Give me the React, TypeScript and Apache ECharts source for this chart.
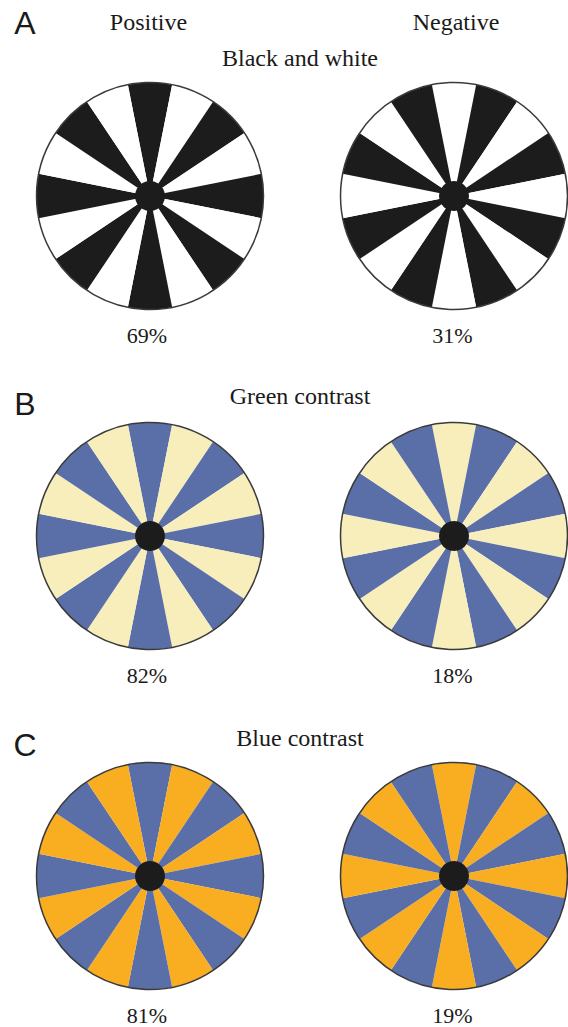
import React, { useEffect, useRef } from "react";
import * as echarts from "echarts";

// ---- data ----
const panelLetters = ["A", "B", "C"];
const panelTitles = ["Black and white", "Green contrast", "Blue contrast"];
const columnLabels = ["Positive", "Negative"];
const positivePercent = [69, 82, 81];
const negativePercent = [31, 18, 19];
// 16 equal sectors per disk
const sectorValues = [1, 1, 1, 1, 1, 1, 1, 1, 1, 1, 1, 1, 1, 1, 1, 1];
const darkColors = ["#1c1c1c", "#5a6fa8", "#5a6fa8"];
const lightColors = ["#ffffff", "#f8eebc", "#f9ae22"];

// ---- layout ----
const W = 568;
const H = 1027;
const colX = [150, 454];
const rowY = [196, 536, 876];
const diskR = 113.5;
const dotR = 15;
const pctY = [335.5, 675.5, 1015.5];
const titleY = [57.5, 396, 738];
const letterY = [23, 404, 745];
const serif = "Liberation Serif";
const sans = "Liberation Sans";

function label(text: string, x: number, y: number, size: number, family: string) {
  return {
    text,
    left: x,
    top: y,
    padding: 0,
    itemGap: 0,
    textAlign: "center",
    textVerticalAlign: "middle",
    textStyle: {
      color: "#1a1a1a",
      fontSize: size,
      fontFamily: family,
      fontWeight: "normal",
    },
  };
}

export default function App() {
  const ref = useRef<HTMLDivElement>(null);

  useEffect(() => {
    if (!ref.current) return;
    const chart = echarts.init(ref.current, null, { renderer: "svg" });

    const series: any[] = [];
    const graphics: any[] = [];
    const titles: any[] = [];

    panelLetters.forEach((letter, row) => {
      [0, 1].forEach((col) => {
        const cx = colX[col];
        const cy = rowY[row];
        const firstDark = col === 0;
        series.push({
          type: "pie",
          silent: true,
          center: [cx, cy],
          radius: [0, diskR],
          startAngle: 90 + 360 / sectorValues.length / 2,
          clockwise: true,
          label: { show: false },
          labelLine: { show: false },
          emphasis: { disabled: true },
          itemStyle: { borderWidth: 0 },
          data: sectorValues.map((v, i) => ({
            value: v,
            itemStyle: {
              color:
                (i % 2 === 0) === firstDark ? darkColors[row] : lightColors[row],
            },
          })),
        });
        graphics.push({
          type: "circle",
          silent: true,
          shape: { cx, cy, r: diskR },
          style: { fill: "none", stroke: "#3a3a3a", lineWidth: 1.5 },
          z: 10,
        });
        graphics.push({
          type: "circle",
          silent: true,
          shape: { cx, cy, r: dotR },
          style: { fill: "#1c1c1c" },
          z: 10,
        });
        const pct = col === 0 ? positivePercent[row] : negativePercent[row];
        titles.push(label(`${pct}%`, col === 0 ? 147 : 452.5, pctY[row], 22, serif));
      });
      titles.push(label(panelTitles[row], 300, titleY[row], 24, serif));
      titles.push(label(letter, 25, letterY[row], 32, sans));
    });

    titles.push(label(columnLabels[0], 148.5, 22, 24, serif));
    titles.push(label(columnLabels[1], 456, 22, 24, serif));

    chart.setOption({
      animation: false,
      backgroundColor: "#ffffff",
      title: titles,
      series,
      graphic: { elements: graphics },
    });

    return () => chart.dispose();
  }, []);

  return (
    <div
      ref={ref}
      style={{ position: "fixed", left: 0, top: 0, width: W, height: H }}
    />
  );
}
